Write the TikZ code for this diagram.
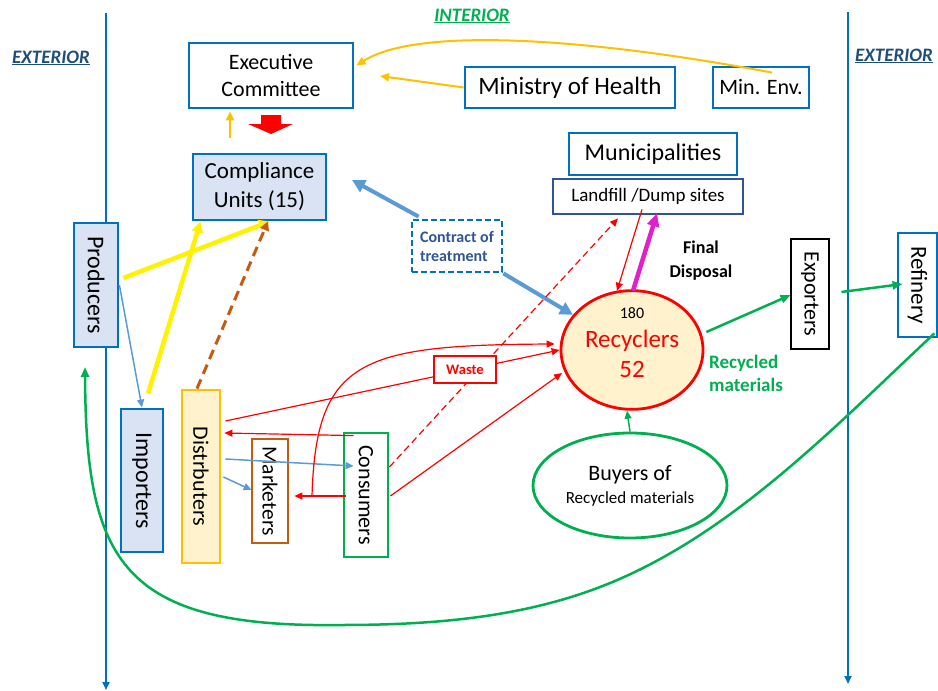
\documentclass[tikz,border=0pt]{standalone}
\usepackage{fontspec}
\setmainfont{Carlito}
\usetikzlibrary{arrows.meta,calc,shapes.geometric}
\definecolor{cblue}{HTML}{0070C0}
\definecolor{lblue}{HTML}{DAE3F3}
\definecolor{lyellow}{HTML}{FFF2CC}
\definecolor{gold}{HTML}{FFC000}
\definecolor{brownc}{HTML}{C55A11}
\definecolor{cgreen}{HTML}{00B050}
\definecolor{ablue}{HTML}{5B9BD5}
\definecolor{dblue}{HTML}{1F4E79}
\definecolor{nblue}{HTML}{2F5597}
\definecolor{magc}{HTML}{E020C8}
\newcommand\fs[2]{\fontsize{#1}{#2}\selectfont}
\begin{document}
\begin{tikzpicture}[x=1pt,y=-1pt,
  box/.style={draw=cblue, line width=2.8pt, fill=white, inner sep=0pt, align=center, text=black},
  lbl/.style={inner sep=0pt, align=center},
  ogarrow/.style={draw=gold, line width=2pt, -{Triangle[length=9pt,width=8pt]}},
  bthick/.style={draw=ablue, line width=4pt, -{Triangle[length=13pt,width=13pt]}},
  bthin/.style={draw=ablue, line width=1.5pt, -{Triangle[length=8pt,width=7pt]}},
  yarrow/.style={draw=yellow, line width=4.5pt, -{Triangle[length=11pt,width=11pt]}},
  brarrow/.style={draw=brownc, line width=3pt, dash pattern=on 10pt off 6pt, -{Triangle[length=9pt,width=9pt]}},
  marrow/.style={draw=magc, line width=4.5pt, -{Triangle[length=13pt,width=12pt]}},
  rarrow/.style={draw=red, line width=1.2pt, -{Triangle[length=8pt,width=7pt]}},
  garrow/.style={draw=cgreen, line width=2.5pt, -{Triangle[length=10pt,width=8pt]}},
  gthin/.style={draw=cgreen, line width=1.5pt, -{Triangle[length=8pt,width=7pt]}},
  axis/.style={draw=cblue, line width=2pt, -{Triangle[length=8pt,width=7pt]}}
]
\useasboundingbox (0,0) rectangle (938,691);

% boundary lines
\coordinate (ltop) at (106,13);
\coordinate (lbot) at (106,690);
\coordinate (rtop) at (848,12);
\coordinate (rbot) at (848,684);
\draw[axis] (ltop) -- (lbot);
\draw[axis] (rtop) -- (rbot);

% labels
\node[lbl, font=\bfseries\itshape\fs{19}{23}, text=dblue] (extl) at (51,58) {\underline{EXTERIOR}};
\node[lbl, font=\bfseries\itshape\fs{19}{23}, text=dblue] (extr) at (894,56) {\underline{EXTERIOR}};
\node[lbl, font=\bfseries\itshape\fs{19}{23}, text=cgreen] (intl) at (472,16) {\underline{INTERIOR}};

% nodes
\node[box, minimum width=164pt, minimum height=65pt, font=\fs{22}{27}] (exec) at (271,75.5) {Executive\\Committee};
\node[box, minimum width=210pt, minimum height=41pt, font=\fs{25}{29}] (moh) at (570,87.5) {Ministry of Health};
\node[box, minimum width=96pt, minimum height=41pt, font=\fs{22}{26}] (minenv) at (761,87.5) {Min. Env.};
\node[box, fill=lblue, minimum width=133pt, minimum height=66pt, font=\fs{23}{29}] (comp) at (259.5,187) {Compliance\\Units (15)};
\node[box, dash pattern=on 6pt off 3pt, minimum width=90pt, minimum height=52pt, align=left, text=nblue, font=\bfseries\fs{16}{19}] (contract) at (457,246) {Contract of\\treatment};
\node[box, minimum width=168pt, minimum height=42pt, font=\fs{24}{29}] (munic) at (653,154) {Municipalities};
\node[box, draw=nblue, minimum width=190pt, minimum height=35pt, font=\fs{19}{23}] (landfill) at (648,196.5) {Landfill /Dump sites};
\node[box, fill=lblue, minimum width=44pt, minimum height=124pt, font=\fs{24}{28}] (prod) at (96,285) {\rotatebox{-90}{Producers}};
\node[box, fill=lblue, minimum width=42pt, minimum height=143pt, font=\fs{24}{28}] (imp) at (142,480.5) {\rotatebox{-90}{Importers}};
\node[box, draw=gold, fill=lyellow, minimum width=38pt, minimum height=173pt, font=\fs{22}{26}] (dist) at (201,476.5) {\rotatebox{-90}{Distrbuters}};
\node[box, draw=brownc, minimum width=36pt, minimum height=104pt, font=\fs{21.5}{25}] (mark) at (270,491) {\rotatebox{-90}{Marketers}};
\node[box, draw=cgreen, minimum width=44pt, minimum height=124pt, font=\fs{22}{26}] (cons) at (366,495) {\rotatebox{-90}{Consumers}};
\node[box, draw=black, minimum width=38pt, minimum height=110pt, font=\fs{22}{26}] (exp) at (810,294) {\rotatebox{-90}{Exporters}};
\node[box, minimum width=39pt, minimum height=104pt, font=\fs{23}{27}] (ref) at (917.5,285) {\rotatebox{-90}{Refinery}};
\node[ellipse, draw=red, fill=lyellow, line width=2.8pt, minimum width=142pt, minimum height=107pt, inner sep=0pt, align=center, text=red, font=\fs{25}{30}] (rec) at (632,350) {{\color{black}\fs{16}{16}180}\\[-1pt]Recyclers\\52\rule[-14pt]{0pt}{0pt}};
\node[ellipse, draw=cgreen, fill=white, line width=2.8pt, minimum width=194pt, minimum height=105pt, inner sep=0pt, align=center, font=\fs{17}{23}] (buyers) at (630,485.5) {{\fs{22}{23}Buyers of}\\Recycled materials};
\node[lbl, font=\bfseries\fs{18}{24}] (fd) at (701,261) {Final\\Disposal};
\node[lbl, font=\bfseries\fs{19}{23}, text=cgreen, align=left, anchor=west] (rm) at (709,373.5) {Recycled\\materials};

% red block arrow
\fill[red] (261,115) -- (281,115) -- (281,124) -- (293,124) -- (271,134) -- (248,124) -- (261,124) -- cycle;

% orange arrows
\draw[ogarrow] ($(minenv.north)+(11,7)$) .. controls (600,40) and (420,25) .. ($(exec.east)+(2,-10)$);
\coordinate (mohtip) at (380,76);
\draw[ogarrow] (moh.west) -- (mohtip);
\coordinate (smallo) at (230,138);
\draw[ogarrow] (smallo) -- ($(exec.south)+(-41,2)$);

% blue thick
\coordinate (ctip) at (352,180);
\draw[bthick] ($(contract.north west)+(8,-2)$) -- (ctip);
\draw[bthick] (contract.south east) -- (rec);

% blue thin
\draw[bthin] (prod.east) -- (imp.north);
\draw[bthin] ($(dist.east)+(4,-17.5)$) -- ($(cons.west)+(11,-29)$);
\draw[bthin] ($(dist.east)+(2,0.5)$) -- ($(mark.west)+(1,-1)$);

% yellow and brown
\draw[yarrow] ($(prod.east)+(4,-7)$) -- ($(comp.south)+(10.5,0)$);
\draw[yarrow] ($(imp.north)+(6,-14)$) -- ($(comp.south west)+(9,0)$);
\draw[brarrow] ($(dist.north)+(-4,0)$) -- ($(comp.south)+(8.5,0)$);

% magenta
\draw[marrow] ($(rec.north)+(1,1.5)$) -- ($(landfill.south)+(9,-2)$);

% red
\draw[rarrow] ($(landfill.south)+(-6,-6)$) -- ($(rec.north)+(-15,1.5)$);
\draw[rarrow, dash pattern=on 7pt off 4pt] ($(cons.east)+(0,-28)$) -- ($(landfill.south)+(-30,3)$);
\draw[rarrow] ($(cons.east)+(1,1)$) -- ($(rec.center)+(-70,23)$);
\draw[rarrow] ($(dist.east)+(4,-55.5)$) -- (rec.west);
\draw[rarrow] ($(cons.west)+(3,1)$) -- ($(mark.east)+(5,5)$);
\coordinate (cm) at (312,496);
\draw[rarrow] (cm) .. controls (316,360) and (360,345) .. ($(rec.west)+(-5,-6)$);
\draw[rarrow] ($(cons.north west)+(11,4)$) -- ($(dist.east)+(3,-43.5)$);

% green
\draw[garrow] ($(rec.east)+(2,-18)$) -- ($(exp.west)+(1,1)$);
\draw[garrow] ($(exp.east)+(11,-2)$) -- ($(ref.west)+(6,-1)$);
\coordinate (gend) at (85,367);
\draw[garrow] ($(ref.south east)+(-4,-5)$) .. controls (831,430) and (725,542) .. (592,590)
   .. controls (512,619) and (425,625) .. (340,625)
   .. controls (120,628) and (86,560) .. (gend);
\draw[gthin] (buyers.north) -- ($(rec.south)+(-5,0)$);

% waste label box on top of the red line
\node[draw=red, line width=1.2pt, fill=white, inner sep=0pt, minimum width=62pt, minimum height=27pt, text=red, font=\bfseries\fs{14.5}{17}] (waste) at (465,369.5) {Waste};
\end{tikzpicture}
\end{document}
